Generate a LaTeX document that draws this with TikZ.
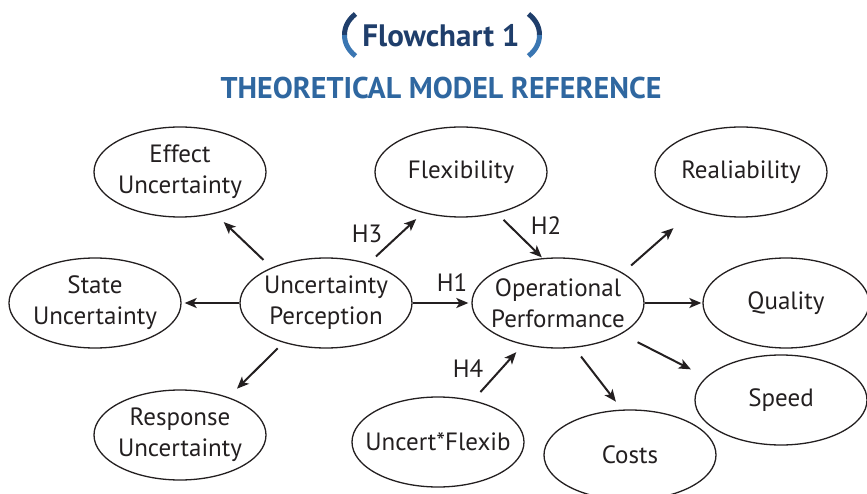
\documentclass[tikz,border=0pt]{standalone}
\usepackage{xcolor}
\usepackage{fontspec}
\setmainfont{PT Sans}
\usepackage{tikz}
\usetikzlibrary{shapes.geometric, arrows.meta}
\definecolor{navy}{HTML}{1F3E6B}
\definecolor{titleblue}{HTML}{2F67A0}
\definecolor{parenblue}{HTML}{3A76B2}
\definecolor{ink}{HTML}{231F20}

\begin{document}
\begin{tikzpicture}[x=1pt,y=-1pt,
	oval/.style={ellipse, draw=ink, line width=1.3pt, minimum width=172pt, minimum height=90pt, inner xsep=-30pt, inner ysep=0pt, align=center, text=ink, font=\fontsize{25}{31}\selectfont},
	arr/.style={-{Stealth[length=12pt,width=10pt,inset=3pt]}, line width=2pt, draw=ink},
	hlabel/.style={text=ink, font=\fontsize{25}{28}\selectfont}]
\useasboundingbox (0,0) rectangle (867,494);
%1. title and brackets
\draw[navy, line width=5pt] (355.5,14) .. controls (348,20) and (344.5,27) .. (344.5,35);
\draw[parenblue, line width=5pt] (344.5,35) .. controls (344.5,43) and (348,50) .. (355.5,56);
\draw[navy, line width=5pt] (528.5,14) .. controls (536,20) and (539.5,27) .. (539.5,35);
\draw[parenblue, line width=5pt] (539.5,35) .. controls (539.5,43) and (536,50) .. (528.5,56);
\node[navy, font=\bfseries\fontsize{31}{34}\selectfont] (fc) at (441,36) {Flowchart 1};
\node[titleblue, font=\bfseries\fontsize{30}{34}\selectfont] (title) at (441,88) {THEORETICAL MODEL REFERENCE};
%2. ellipses
\node[oval] (up) at (326,303) {Uncertainty\\Perception};
\node[oval] (op) at (558,303) {Operational\\Performance};
\node[oval] (effect) at (180,172) {Effect\\Uncertainty};
\node[oval] (state) at (95,303) {State\\Uncertainty};
\node[oval] (response) at (180,435) {Response\\Uncertainty};
\node[oval] (flex) at (461,172) {Flexibility};
\node[oval] (uf) at (438,442) {Uncert*Flexib};
\node[oval] (real) at (741,172) {Realiability};
\node[oval, minimum width=166pt] (quality) at (786,303) {Quality};
\node[oval] (speed) at (781,400) {Speed};
\node[oval] (costs) at (630,455) {Costs};
%3. arrows
\draw[arr, shorten <=11pt, shorten >=12pt] (up.147) -- (effect.-50);
\draw[arr, shorten >=3pt] (up.west) -- (state.east);
\draw[arr, shorten <=8pt, shorten >=12pt] (up.-137) -- (response.38);
\draw[arr, shorten <=10pt, shorten >=9pt] (up.43) -- (flex.-133);
\draw[arr, shorten >=3pt] (up.east) -- (op.west);
\draw[arr, shorten <=9pt, shorten >=1pt] (flex.-49) -- (op.109);
\draw[arr, shorten <=11pt, shorten >=10pt] (uf.50) -- (op.-130);
\draw[arr, shorten <=11pt, shorten >=27pt] (op.25) -- (real.-141);
\draw[arr, shorten >=1pt] (op.east) -- (quality.west);
\draw[arr, shorten <=18pt, shorten >=17pt] (op.-26) -- (speed.163);
\draw[arr, shorten <=11pt, shorten >=10pt] (op.-70) -- (costs.100);
%4. hypothesis labels
\node[hlabel] (h1) at (452,283) {H1};
\node[hlabel] (h2) at (546,226) {H2};
\node[hlabel] (h3) at (367,234) {H3};
\node[hlabel] (h4) at (468,369) {H4};
\end{tikzpicture}
\end{document}
